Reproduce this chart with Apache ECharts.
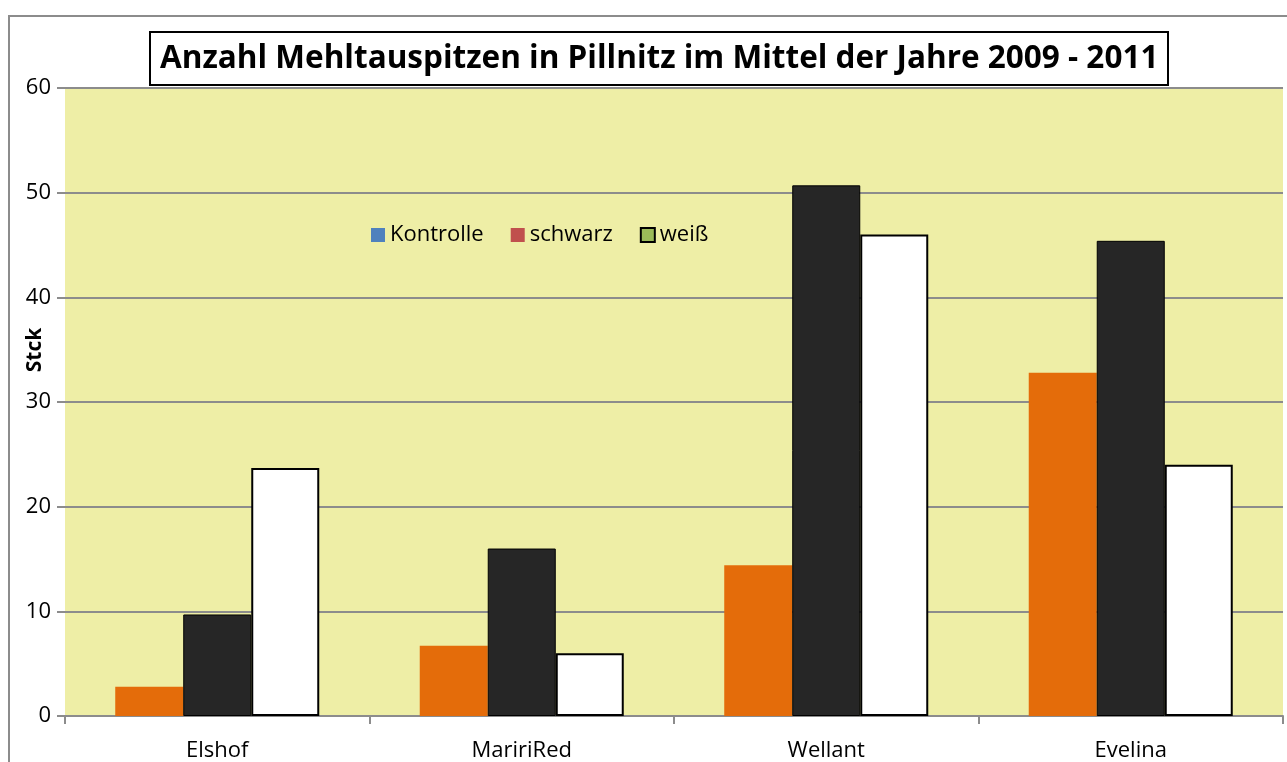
<!DOCTYPE html>
<html>
<head>
<meta charset="utf-8">
<script src="https://cdn.jsdelivr.net/npm/echarts@6/dist/echarts.min.js"></script>
<style>
  html, body { margin: 0; padding: 0; background: #fff; }
  #chart { width: 1287px; height: 762px; }
</style>
</head>
<body>
<div id="chart"></div>
<script>
// Sorten und Werte (Stck, Mittel 2009 - 2011)
const sorten = ["Elshof", "MaririRed", "Wellant", "Evelina"];
const kontrolle = [2.8, 6.7, 14.4, 32.8];
const schwarz = [9.7, 16.0, 50.7, 45.4];
const weiss = [23.7, 6.0, 46.0, 24.0];
const yTicks = [0, 10, 20, 30, 40, 50, 60];

const fontFam = "'Open Sans', 'Noto Sans', sans-serif";
let myChart = echarts.init(document.getElementById("chart"));

myChart.setOption({
  animation: false,
  graphic: [
    {
      type: "rect",
      shape: { x: 9, y: 16, width: 1400, height: 900 },
      style: { fill: "none", stroke: "#8c8c8c", lineWidth: 2 },
      z: -10
    }
  ],
  title: {
    text: "Anzahl Mehltauspitzen in Pillnitz im Mittel der Jahre 2009 - 2011",
    left: 150,
    top: 32,
    padding: [11, 10, 10, 10],
    borderColor: "#000",
    borderWidth: 2,
    backgroundColor: "#fff",
    textStyle: {
      fontFamily: fontFam,
      fontSize: 31.5,
      fontWeight: "bold",
      color: "#000"
    },
    z: 10
  },
  legend: {
    left: 366,
    top: 219,
    itemWidth: 14,
    itemHeight: 14,
    itemGap: 27,
    textStyle: { fontFamily: fontFam, fontSize: 22, color: "#000" },
    data: [
      { name: "Kontrolle", icon: "rect", itemStyle: { color: "#4F81BD", borderWidth: 0 } },
      { name: "schwarz", icon: "rect", itemStyle: { color: "#C0504D", borderWidth: 0 } },
      { name: "weiß", icon: "rect", itemStyle: { color: "#9BBB59", borderColor: "#000", borderWidth: 2 } }
    ]
  },
  grid: {
    left: 65,
    right: 4,
    top: 88,
    bottom: 46,
    outerBoundsMode: "none",
    containLabel: false,
    show: true,
    backgroundColor: "#EEEEA6",
    borderWidth: 0
  },
  xAxis: {
    type: "category",
    data: sorten,
    axisLine: { lineStyle: { color: "#8c8c8c", width: 2 } },
    axisTick: { show: true, length: 8, alignWithLabel: false, lineStyle: { color: "#8c8c8c", width: 2 } },
    axisLabel: { fontFamily: fontFam, fontSize: 22, color: "#000", margin: 24 }
  },
  yAxis: {
    type: "value",
    min: yTicks[0],
    max: yTicks[yTicks.length - 1],
    interval: 10,
    name: "Stck",
    nameLocation: "middle",
    nameGap: 19,
    nameMoveOverlap: false,
    nameTextStyle: {
      fontFamily: fontFam, fontSize: 21, fontWeight: "bold", color: "#000",
      padding: [0, 0, 0, 104]
    },
    axisLine: { show: false },
    axisTick: { show: true, length: 8, lineStyle: { color: "#8c8c8c", width: 2 } },
    axisLabel: { fontFamily: fontFam, fontSize: 22, color: "#000", margin: 14 },
    splitLine: { lineStyle: { color: "#8c8c8c", width: 2 } }
  },
  series: [
    {
      name: "Kontrolle",
      type: "bar",
      barGap: "0%",
      barCategoryGap: "33%",
      itemStyle: { color: "#E46C0A" },
      data: kontrolle
    },
    {
      name: "schwarz",
      type: "bar",
      itemStyle: { color: "#262626", borderColor: "#000", borderWidth: 1 },
      data: schwarz
    },
    {
      name: "weiß",
      type: "bar",
      itemStyle: { color: "#fff", borderColor: "#000", borderWidth: 2 },
      data: weiss
    }
  ]
});
</script>
</body>
</html>
